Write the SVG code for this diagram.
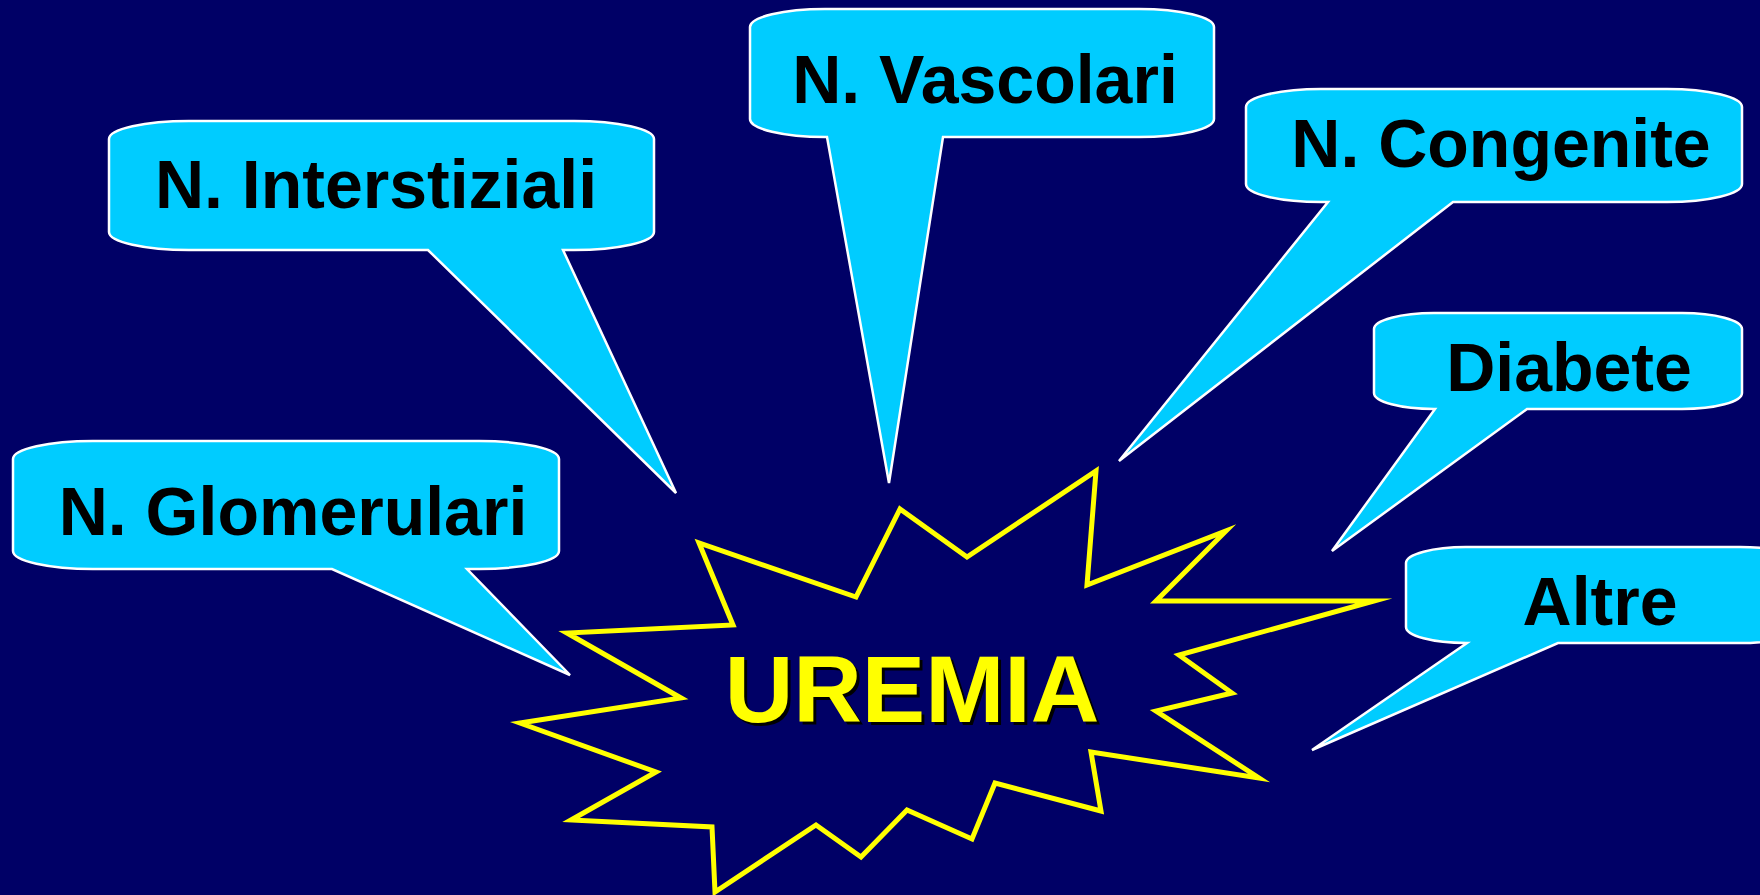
<svg xmlns="http://www.w3.org/2000/svg" width="1760" height="895" viewBox="0 0 1760 895">
<style>
.bubble{fill:#00ccff;stroke:#ffffff;stroke-width:2.5;stroke-linejoin:miter}
.lbl{font-family:"Liberation Sans",Arial,sans-serif;font-weight:bold;font-size:68px;fill:#000000;text-anchor:middle}
.star{fill:none;stroke:#ffff00;stroke-width:5;stroke-linejoin:miter;stroke-miterlimit:20}
.big{font-family:"Liberation Sans",Arial,sans-serif;font-weight:bold;font-size:95px;text-anchor:middle}
</style>
<rect x="0" y="0" width="1760" height="895" fill="#000066"/>
<g id="uremia">
<polygon class="star" points="900,509 967,557 1096,471 1087,585 1226,531 1156,601 1374,601 1179,655 1232,693 1156,711 1259,778 1091,752 1101,811 995,783 972,839 907,810 861,857 816,825 715,892 712,827 571,820 656,772 520,723 681,698 567,633 733,625 699,543 856,597"/>
<text class="big" x="915" y="725" fill="#000000">UREMIA</text>
<text class="big" x="912" y="722" fill="#ffff00">UREMIA</text>
</g>
<g id="interstiziali">
<path class="bubble" d="M189,121 H574 A80 18 0 0 1 654,139 V232 A80 18 0 0 1 574,250 H563 L676,493 L428,250 H189 A80 18 0 0 1 109,232 V139 A80 18 0 0 1 189,121 Z"/>
<text class="lbl" x="376" y="208">N. Interstiziali</text>
</g>
<g id="vascolari">
<path class="bubble" d="M825,9 H1139 A75 18 0 0 1 1214,27 V119 A75 18 0 0 1 1139,137 H943 L889,483 L827,137 H825 A75 18 0 0 1 750,119 V27 A75 18 0 0 1 825,9 Z"/>
<text class="lbl" x="985" y="103">N. Vascolari</text>
</g>
<g id="congenite">
<path class="bubble" d="M1321,89 H1667 A75 18 0 0 1 1742,107 V184 A75 18 0 0 1 1667,202 H1453 L1119,461 L1328,202 H1321 A75 18 0 0 1 1246,184 V107 A75 18 0 0 1 1321,89 Z"/>
<text class="lbl" x="1501" y="167">N. Congenite</text>
</g>
<g id="diabete">
<path class="bubble" d="M1434,313 H1682 A60 16 0 0 1 1742,329 V393 A60 16 0 0 1 1682,409 H1527 L1332,551 L1435,409 H1434 A60 16 0 0 1 1374,393 V329 A60 16 0 0 1 1434,313 Z"/>
<text class="lbl" x="1569" y="391">Diabete</text>
</g>
<g id="altre">
<path class="bubble" d="M1466,547 H1740 A60 16 0 0 1 1800,563 V627 A60 16 0 0 1 1740,643 H1558 L1312,750 L1467,643 H1466 A60 16 0 0 1 1406,627 V563 A60 16 0 0 1 1466,547 Z"/>
<text class="lbl" x="1600" y="625">Altre</text>
</g>
<g id="glomerulari">
<path class="bubble" d="M93,441 H479 A80 18 0 0 1 559,459 V551 A80 18 0 0 1 479,569 H467 L570,675 L332,569 H93 A80 18 0 0 1 13,551 V459 A80 18 0 0 1 93,441 Z"/>
<text class="lbl" x="293" y="535">N. Glomerulari</text>
</g>
<g id="connectors"></g>
</svg>
